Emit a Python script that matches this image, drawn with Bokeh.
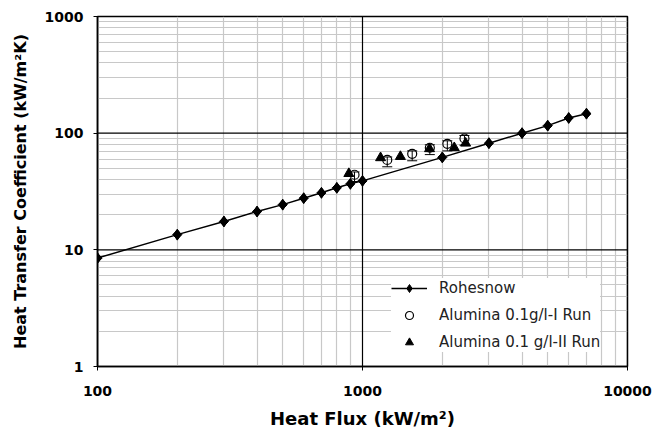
import numpy as np
from bokeh.plotting import figure
from bokeh.models import (FixedTicker, CustomJSTickFormatter, Whisker, ColumnDataSource,
                          Legend, LegendItem, TeeHead, Range1d, Span)
from bokeh.embed import file_html
from bokeh.resources import INLINE

# ---------------- data ----------------
rohsenow_flux = [100, 200, 300, 400, 500, 600, 700, 800, 900, 1000, 2000, 3000, 4000, 5000, 6000, 7000]
rohsenow_htc = [8.5, 13.5, 17.5, 21.3, 24.4, 27.7, 30.8, 34.0, 36.8, 39.0, 62.0, 82.0, 100.0, 116.0, 135.0, 147.0]

run1_flux = [933, 1240, 1540, 1795, 2090, 2425]
run1_htc = [44.0, 59.0, 66.5, 75.0, 81.0, 90.0]
run1_hi = [46.5, 62.5, 70.5, 79.5, 86.0, 95.5]
run1_lo = [38.5, 51.5, 58.0, 65.5, 70.5, 79.0]

run2_flux = [888, 1170, 1390, 1790, 2220, 2450]
run2_htc = [45.0, 61.5, 63.0, 73.5, 75.0, 82.0]

x_major = [100, 1000, 10000]
x_minor = [200, 300, 400, 500, 600, 700, 800, 900, 2000, 3000, 4000, 5000, 6000, 7000, 8000, 9000]
y_major = [1, 10, 100, 1000]
y_minor = [2, 3, 4, 5, 6, 7, 8, 9, 20, 30, 40, 50, 60, 70, 80, 90, 200, 300, 400, 500, 600, 700, 800, 900]

labels = ["Rohesnow", "Alumina 0.1g/l-I Run", "Alumina 0.1 g/l-II Run"]
x_title = "Heat Flux (kW/m\u00b2)"
y_title = "Heat Transfer Coefficient (kW/m\u00b2K)"

# ---------------- figure ----------------
p = figure(width=657, height=432, x_axis_type="log", y_axis_type="log",
           x_range=Range1d(100, 10000), y_range=Range1d(1, 1000),
           output_backend="svg", toolbar_location=None,
           min_border_left=97, min_border_right=30, min_border_top=16, min_border_bottom=66)
p.background_fill_color = "white"
p.border_fill_color = "white"
p.outline_line_color = "black"
p.outline_line_width = 1.5

fmt = CustomJSTickFormatter(code="return Math.round(tick).toString();")
p.xaxis.ticker = FixedTicker(ticks=x_major, minor_ticks=x_minor)
p.yaxis.ticker = FixedTicker(ticks=y_major, minor_ticks=y_minor)
for ax in (p.xaxis[0], p.yaxis[0]):
    ax.formatter = fmt
    ax.axis_line_color = "black"
    ax.axis_line_width = 1.5
    ax.major_tick_out = 4
    ax.major_tick_in = 0
    ax.minor_tick_out = 0
    ax.minor_tick_in = 0
    ax.major_tick_line_color = "black"
    ax.major_label_text_font = "DejaVu Sans"
    ax.major_label_text_font_style = "bold"
    ax.major_label_text_font_size = "14px"
    ax.major_label_text_color = "black"
    ax.axis_label_text_font = "DejaVu Sans"
    ax.axis_label_text_font_style = "bold"
    ax.axis_label_text_color = "black"

p.xaxis.axis_label = x_title
p.yaxis.axis_label = y_title
p.xaxis.axis_label_text_font_size = "18px"
p.yaxis.axis_label_text_font_size = "16px"
p.xaxis.major_label_standoff = 15
p.yaxis.major_label_standoff = 10
p.xaxis.axis_label_standoff = 9
p.yaxis.axis_label_standoff = 12

for g in (p.xgrid[0], p.ygrid[0]):
    g.grid_line_color = None
    g.minor_grid_line_color = "#c8c8c8"
    g.minor_grid_line_width = 1.2
p.xgrid.ticker = p.xaxis[0].ticker
p.ygrid.ticker = p.yaxis[0].ticker

# black major grid lines drawn above the grey minor ones
for v in x_major:
    p.add_layout(Span(location=v, dimension="height", line_color="black", line_width=1.2, level="underlay"))
for v in y_major:
    p.add_layout(Span(location=v, dimension="width", line_color="black", line_width=1.2, level="underlay"))

# ---------------- glyphs ----------------
src1 = ColumnDataSource(dict(x=run1_flux, y=run1_htc, hi=run1_hi, lo=run1_lo))

r_line = p.line(rohsenow_flux, rohsenow_htc, line_color="black", line_width=1.5)
r_diam = p.scatter(rohsenow_flux, rohsenow_htc, marker="diamond", size=11,
                   fill_color="black", line_color="black")
r_mark = p.scatter(rohsenow_flux, rohsenow_htc, marker="square", angle=np.pi / 4, size=6.5,
                   fill_color="black", line_color="black")

wh = Whisker(base="x", upper="hi", lower="lo", source=src1, line_color="black", line_width=1,
             upper_head=TeeHead(size=10, line_color="black", line_width=1),
             lower_head=TeeHead(size=10, line_color="black", line_width=1))
p.add_layout(wh)
c_mark = p.scatter("x", "y", source=src1, marker="circle", size=9, fill_color=None,
                   line_color="black", line_width=1.2)
t_mark = p.scatter(run2_flux, run2_htc, marker="triangle", size=10, fill_color="black",
                   line_color="black")

legend = Legend(items=[LegendItem(label=labels[0], renderers=[r_line, r_diam]),
                       LegendItem(label=labels[1], renderers=[c_mark]),
                       LegendItem(label=labels[2], renderers=[t_mark])],
                location=(294, 14), orientation="vertical")
legend.label_text_font = "DejaVu Sans"
legend.label_text_font_size = "15px"
legend.label_text_color = "#222222"
legend.border_line_color = None
legend.background_fill_color = "white"
legend.background_fill_alpha = 1.0
legend.padding = 7
legend.margin = 0
legend.spacing = 7
legend.glyph_width = 36
legend.glyph_height = 20
legend.label_height = 20
legend.label_standoff = 12
p.add_layout(legend, "center")

open("out.html", "w").write(file_html(p, INLINE))
